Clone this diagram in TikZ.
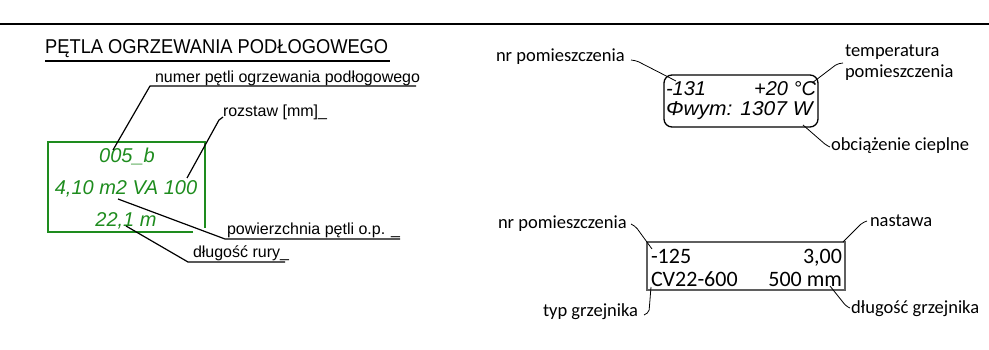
\documentclass[tikz,border=0pt]{standalone}
\usepackage{fontspec}
\setmainfont{Liberation Sans}
\newfontfamily\calib{Carlito}
\usepackage{graphicx}
\definecolor{loopgreen}{RGB}{30,140,30}
\definecolor{boxgray}{RGB}{95,95,95}
\begin{document}
\begin{tikzpicture}[x=1pt,y=-1pt,
  lbl/.style={inner sep=0pt, outer sep=0pt, font=\fontsize{16}{16}\selectfont},
  rlbl/.style={inner sep=0pt, outer sep=0pt, align=left, font=\calib\fontsize{18.5}{21}\selectfont},
  greentxt/.style={inner sep=0pt, outer sep=0pt, text=loopgreen, font=\fontsize{20}{20}\selectfont\itshape},
  tagtxt/.style={inner sep=0pt, outer sep=0pt, font=\fontsize{20}{20}\selectfont\itshape},
  radtxt/.style={inner sep=0pt, outer sep=0pt, font=\calib\fontsize{22}{22}\selectfont},
  leader/.style={draw=black, line width=1.2pt, line join=round},
  rleader/.style={draw=black, line width=0.8pt, line join=round, rounded corners=2pt},
]
\useasboundingbox (0,0) rectangle (989,350);
% top rule
\coordinate (ruleL) at (0,24);
\coordinate (ruleR) at (989,24);
\draw[line width=2.5pt] (ruleL) -- (ruleR);

% ---------- left: floor heating loop ----------
\node[anchor=base west, inner sep=0pt] (title) at (45,54)
  {\scalebox{0.915}[1]{\fontsize{20}{20}\selectfont PĘTLA OGRZEWANIA PODŁOGOWEGO}};
\coordinate (titleulA) at (45,61);
\coordinate (titleulB) at (390,61);
\draw[line width=1.2pt] (titleulA) -- (titleulB);

% green box (open at bottom right corner)
\coordinate (gb1) at (193,232);
\coordinate (gb2) at (48,232);
\coordinate (gb3) at (48,142);
\coordinate (gb4) at (205,142);
\coordinate (gb5) at (205,228);
\draw[draw=loopgreen, line width=1.5pt] (gb1) -- (gb2) -- (gb3) -- (gb4) -- (gb5);

\node[greentxt, anchor=base] (gnum) at (127,163) {005\_b};
\node[greentxt, anchor=base] (garea) at (126,195) {4,10 m2 VA 100};
\node[greentxt, anchor=base] (glen) at (126,227) {22,1 m};

% numer petli
\node[lbl, anchor=base west] (numtxt) at (155,83) {numer pętli ogrzewania podłogowego};
\coordinate (numtip) at (113,150);
\coordinate (numshelf) at (150,86);
\coordinate (numend) at (416,86);
\draw[leader] (numtip) -- (numshelf) -- (numend);

% rozstaw
\node[lbl, anchor=base west] (roztxt) at (223,117) {rozstaw [mm]\_};
\coordinate (roztip) at (187,178);
\coordinate (rozbend) at (219,120);
\coordinate (rozshelf) at (223,117);
\draw[leader] (roztip) -- (rozbend) -- (rozshelf);

% powierzchnia
\node[lbl, anchor=base west] (powtxt) at (227,235) {powierzchnia pętli o.p. \_};
\coordinate (powtip) at (118,199);
\coordinate (powshelf) at (225,239);
\coordinate (powend) at (400,239);
\draw[leader] (powtip) -- (powshelf) -- (powend);

% dlugosc rury
\node[lbl, anchor=base west] (dlutxt) at (193,258) {długość rury\_};
\coordinate (dlutip) at (126,226);
\coordinate (dlushelf) at (188,262);
\coordinate (dluend) at (285,262);
\draw[leader] (dlutip) -- (dlushelf) -- (dluend);

% ---------- right top: room tag ----------
\node[draw, line width=1.3pt, rounded corners=8pt, minimum width=154pt, minimum height=52pt, inner sep=0pt] (tagbox) at (741,101) {};
\node[tagtxt, anchor=base west] (troom) at (666,96) {-131};
\node[tagtxt, anchor=base east] (ttemp) at (816,96) {+20 °C};
\node[tagtxt, anchor=base west] (tload) at (666,116) {\scalebox{1.05}[1]{Φwym: 1307 W}};

\node[rlbl, anchor=base west] (nrA) at (496,62) {nr pomieszczenia};
\coordinate (nrAa) at (631,60);
\coordinate (nrAb) at (637,61);
\coordinate (nrAtip) at (676,81);
\draw[rleader] (nrAa) -- (nrAb) -- (nrAtip);

\node[rlbl, anchor=base west] (tempA) at (845,78) {temperatura\\pomieszczenia};
\coordinate (tempAa) at (843,63);
\coordinate (tempAb) at (837,64);
\coordinate (tempAtip) at (812,83);
\draw[rleader] (tempAa) -- (tempAb) -- (tempAtip);

\node[rlbl, anchor=base west] (obcA) at (831,151) {obciążenie cieplne};
\coordinate (obctip) at (803,125);
\coordinate (obcb) at (826,145);
\coordinate (obca) at (830,147);
\draw[rleader] (obctip) -- (obcb) -- (obca);

% ---------- right bottom: radiator tag ----------
\node[draw=boxgray, line width=1.1pt, minimum width=198pt, minimum height=48pt, inner sep=0pt] (radbox) at (746,266) {};
\node[radtxt, anchor=base west] (rroom) at (651,263) {-125};
\node[radtxt, anchor=base west] (rtype) at (651,287) {CV22-600};
\node[radtxt, anchor=base east] (rset) at (842,263) {3,00};
\node[radtxt, anchor=base east] (rlen) at (842,287) {500 mm};

\node[rlbl, anchor=base west] (nrB) at (498,229) {nr pomieszczenia};
\coordinate (nrBa) at (631,224);
\coordinate (nrBb) at (636,227);
\coordinate (nrBtip) at (652,249);
\draw[rleader] (nrBa) -- (nrBb) -- (nrBtip);

\node[rlbl, anchor=base west] (typB) at (543,316) {typ grzejnika};
\coordinate (typtip) at (651,287);
\coordinate (typb) at (649,312);
\coordinate (typa) at (644,315);
\draw[rleader] (typtip) -- (typb) -- (typa);

\node[rlbl, anchor=base west] (nasB) at (870,227) {nastawa};
\coordinate (nasa) at (867,221);
\coordinate (nasb) at (862,223);
\coordinate (nastip) at (843,242);
\draw[rleader] (nasa) -- (nasb) -- (nastip);

\node[rlbl, anchor=base west] (dlgB) at (851,313) {długość grzejnika};
\coordinate (dlgtip) at (830,286);
\coordinate (dlgb) at (846,306);
\coordinate (dlga) at (850,308);
\draw[rleader] (dlgtip) -- (dlgb) -- (dlga);
\end{tikzpicture}
\end{document}
